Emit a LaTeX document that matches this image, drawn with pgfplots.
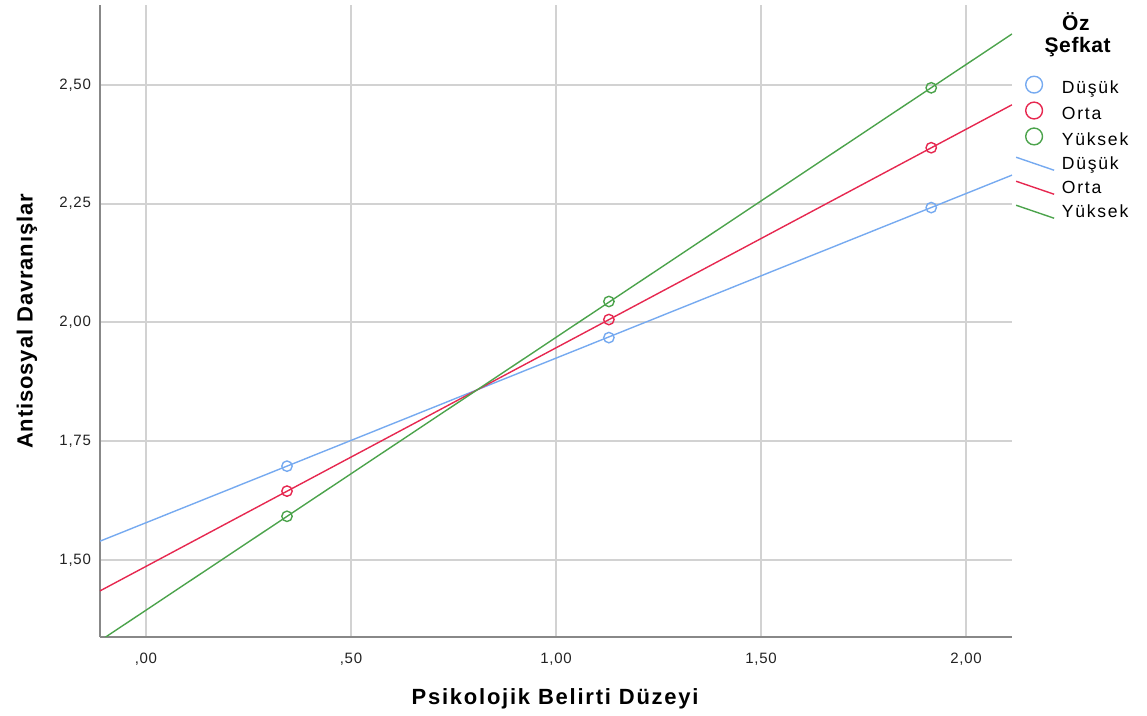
\documentclass[border=0pt]{standalone}
\usepackage{pgfplots}
\pgfplotsset{compat=1.18}
\usepackage{fontspec}
\setmainfont{Liberation Sans}
\newfontfamily\lsTick[LetterSpace=5]{Liberation Sans}
\newfontfamily\lsLab[LetterSpace=8]{Liberation Sans}
\newfontfamily\lsYLab[LetterSpace=4]{Liberation Sans}
\newfontfamily\lsLeg[LetterSpace=10]{Liberation Sans}
\newfontfamily\lsTitle[LetterSpace=3]{Liberation Sans}
\definecolor{cBlue}{RGB}{118,170,240}
\definecolor{cRed}{RGB}{230,40,80}
\definecolor{cGreen}{RGB}{76,163,76}
\definecolor{gridc}{RGB}{210,210,210}
\definecolor{axc}{RGB}{136,136,136}
\definecolor{txt}{RGB}{34,34,34}
\begin{document}
\begin{tikzpicture}
\begin{axis}[
  at={(0,0)}, anchor=south west,
  scale only axis,
  width=456pt, height=316pt,
  xmin=-0.112, xmax=2.112,
  ymin=1.338, ymax=2.668,
  axis x line=bottom, axis y line=left,
  axis line style={-, draw=axc, line width=1.1pt},
  major tick length=0pt,
  xtick={0,0.5,1,1.5,2},
  xticklabels={{,00},{,50},{1,00},{1,50},{2,00}},
  ytick={1.5,1.75,2,2.25,2.5},
  yticklabels={{1,50},{1,75},{2,00},{2,25},{2,50}},
  xmajorgrids, ymajorgrids,
  grid style={draw=gridc, line width=1pt},
  tick label style={font=\lsTick\fontsize{7.5}{8.5}\selectfont, text=txt},
  xticklabel style={yshift=-4.5pt},
  yticklabel style={xshift=-1pt},
  xlabel={\textbf{Psikolojik Belirti Düzeyi}},
  ylabel={\textbf{Antisosyal Davranışlar}},
  x label style={font=\lsLab\fontsize{11}{13}\selectfont, at={(axis description cs:0.5,-0.098)}, anchor=center},
  y label style={font=\lsYLab\fontsize{11}{13}\selectfont, at={(axis description cs:-0.080,0.5)}, anchor=center},
  legend style={draw=none, fill=none, at={(rel axis cs:1.0033,0.889)}, anchor=north west,
    inner sep=0pt, font=\lsLeg\fontsize{8.8}{10}\selectfont, row sep=1pt, column sep=2.5pt,
    nodes={inner sep=1pt, text height=7pt, text depth=2pt}},
  legend cell align=left,
  clip mode=individual,
]
% points
\addplot[only marks, mark=o, mark size=2.6pt, draw=cBlue, line width=0.7pt,
  legend image code/.code={\draw[cBlue, line width=0.7pt] (9pt,0) circle (4.2pt);}]
  coordinates {(0.344,1.6975) (1.129,1.968) (1.915,2.2416)};
\addlegendentry{Düşük}
\addplot[only marks, mark=o, mark size=2.6pt, draw=cRed, line width=0.7pt,
  legend image code/.code={\draw[cRed, line width=0.7pt] (9pt,0) circle (4.2pt);}]
  coordinates {(0.344,1.645) (1.129,2.006) (1.915,2.3676)};
\addlegendentry{Orta}
\addplot[only marks, mark=o, mark size=2.6pt, draw=cGreen, line width=0.7pt,
  legend image code/.code={\draw[cGreen, line width=0.7pt] (9pt,0) circle (4.2pt);}]
  coordinates {(0.344,1.592) (1.129,2.044) (1.915,2.4937)};
\addlegendentry{Yüksek}
% fit lines
\addplot[no marks, cBlue, line width=0.7pt,
  legend image code/.code={\draw[cBlue, line width=0.7pt] (0pt,3.5pt) -- (19pt,-3pt);}]
  coordinates {(-0.112,1.5396) (2.112,2.310)};
\addlegendentry{Düşük}
\addplot[no marks, cRed, line width=0.7pt,
  legend image code/.code={\draw[cRed, line width=0.7pt] (0pt,3.5pt) -- (19pt,-3pt);}]
  coordinates {(-0.112,1.435) (2.112,2.458)};
\addlegendentry{Orta}
\addplot[no marks, cGreen, line width=0.7pt,
  legend image code/.code={\draw[cGreen, line width=0.7pt] (0pt,3.5pt) -- (19pt,-3pt);}]
  coordinates {(-0.112,1.330) (2.112,2.607)};
\addlegendentry{Yüksek}
\node[font=\lsTitle\bfseries\fontsize{10.5}{12}\selectfont, anchor=center] at (rel axis cs:1.070,0.973) {Öz};
\node[font=\lsTitle\bfseries\fontsize{10.5}{12}\selectfont, anchor=center] at (rel axis cs:1.072,0.934) {Şefkat};
\end{axis}
\path[use as bounding box] (-50pt,-39pt) rectangle (523.5pt,318.5pt);
\end{tikzpicture}
\end{document}
